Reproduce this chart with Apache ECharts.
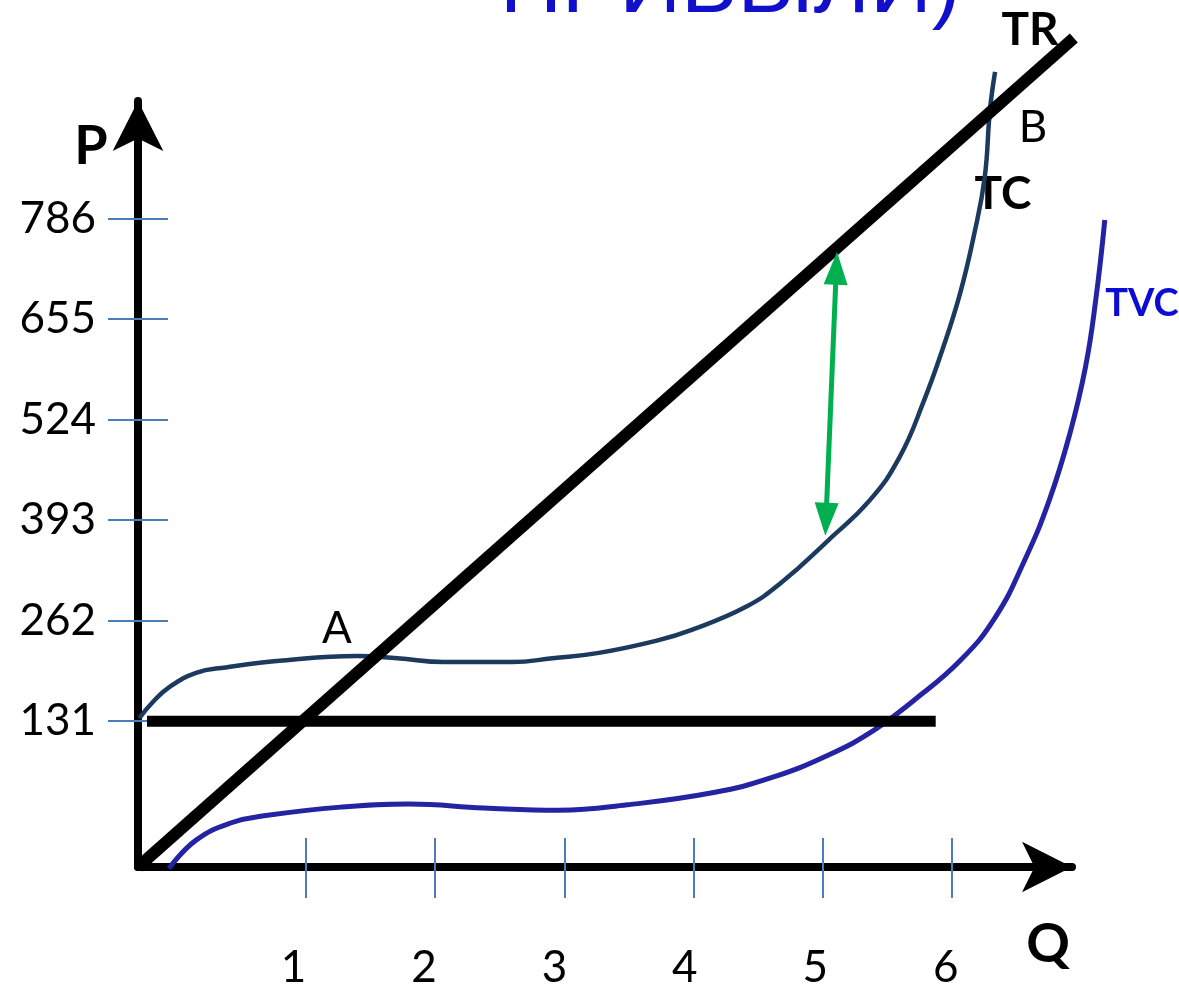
<!DOCTYPE html>
<html>
<head>
<meta charset="utf-8">
<script src="https://cdn.jsdelivr.net/npm/echarts@6/dist/echarts.min.js"></script>
<style>
  html, body { margin: 0; padding: 0; background: #fff; }
  #main { width: 1179px; height: 990px; }
</style>
</head>
<body>
<div id="main"></div>
<script>
// tick labels
var qTicks = [1, 2, 3, 4, 5, 6];
var pTicks = [131, 262, 393, 524, 655, 786];

// TR - straight line from the origin corner
var trQ = [-0.30, 6.95];
var trP = [-59, 1021];

// fixed costs
var fcQ = [-0.23, 5.88];
var fcP = [131, 131];

// TC
var tcQ = [-0.29, -0.19, -0.06, 0.15, 0.38, 0.82, 1.40, 1.71, 2.07, 2.60, 2.91, 3.27, 3.72, 3.99, 4.41, 4.68, 5.05, 5.37, 5.60, 5.79, 5.93, 6.07, 6.18, 6.26, 6.30, 6.34];
var tcP = [135, 155, 175, 194, 201, 210, 216, 213, 208, 208, 213, 220, 236, 250, 280, 311, 367, 419, 475, 549, 614, 689, 767, 840, 927, 977];

// TVC
var tvcQ = [-0.06, 0.15, 0.43, 0.69, 1.27, 1.80, 2.38, 2.96, 3.49, 4.16, 4.60, 5.05, 5.40, 5.71, 6.07, 6.34, 6.57, 6.76, 6.92, 7.04, 7.12, 7.19];
var tvcP = [-61, -24, -1, 8, 19, 23, 18, 15, 22, 38, 57, 87, 119, 158, 210, 266, 341, 419, 506, 592, 680, 784];

// profit arrow (between TC and TR), bottom end then top end
var profitQ = [5.03, 5.11];
var profitP = [394, 721];

function pairs(xs, ys) {
  return xs.map(function (x, i) { return [x, ys[i]]; });
}

var chart = echarts.init(document.getElementById('main'), null, { renderer: 'canvas' });

var tickStyle = { color: '#4a7ebb', width: 2 };
var noLine = { show: true, onZero: false, lineStyle: { color: 'rgba(0,0,0,0)', width: 1 } };
var labelFont = 'Lato';
var qMin = -0.30, qMax = 6.93, qMaxData = 7.30;
var pMin = -59, pMax = 939;

var option = {
  animation: false,
  grid: [
    // grid 0: the curves (wider on the right so the curves past the arrow are kept)
    { left: 138, right: 60, top: 101, bottom: 123 },
    // grid 1: the drawn axes
    { left: 138, right: 107, top: 101, bottom: 123 },
    // grid 2: Q labels (the picture sets them a bit apart from the ticks)
    { left: 124, right: 112, top: 101, bottom: 123 }
  ],
  xAxis: [
    { gridIndex: 0, type: 'value', min: qMin, max: qMaxData, show: false },
    {
      gridIndex: 1, type: 'value', min: qMin, max: qMax, position: 'bottom',
      axisLine: { show: true, onZero: false, symbol: ['none', 'arrow'], symbolSize: [38, 50], lineStyle: { color: '#000', width: 8 } },
      axisTick: { show: true, inside: true, length: 29, customValues: qTicks, lineStyle: tickStyle },
      axisLabel: { show: false },
      splitLine: { show: false }
    },
    {
      gridIndex: 1, type: 'value', min: qMin, max: qMax, position: 'bottom',
      axisLine: noLine,
      axisTick: { show: true, inside: false, length: 31, customValues: qTicks, lineStyle: tickStyle },
      axisLabel: { show: false },
      splitLine: { show: false }
    },
    {
      gridIndex: 2, type: 'value', min: qMin, max: qMax, position: 'bottom',
      axisLine: { show: false },
      axisTick: { show: false },
      axisLabel: { show: true, customValues: qTicks, margin: 80, fontSize: 44, color: '#000', fontFamily: labelFont },
      splitLine: { show: false }
    }
  ],
  yAxis: [
    { gridIndex: 0, type: 'value', min: pMin, max: pMax, show: false },
    {
      gridIndex: 1, type: 'value', min: pMin, max: pMax, position: 'left',
      axisLine: { show: true, onZero: false, symbol: ['none', 'arrow'], symbolSize: [38, 50], lineStyle: { color: '#000', width: 8 } },
      axisTick: { show: true, inside: true, length: 30, customValues: pTicks, lineStyle: tickStyle },
      axisLabel: { show: false },
      splitLine: { show: false }
    },
    {
      gridIndex: 1, type: 'value', min: pMin, max: pMax, position: 'left',
      axisLine: noLine,
      axisTick: { show: true, inside: false, length: 30, customValues: pTicks, lineStyle: tickStyle },
      axisLabel: { show: true, customValues: pTicks, margin: 42, fontSize: 44, color: '#000', fontFamily: labelFont },
      splitLine: { show: false }
    },
    { gridIndex: 2, type: 'value', min: pMin, max: pMax, show: false }
  ],
  series: [
    {
      name: 'TVC', type: 'line', xAxisIndex: 0, yAxisIndex: 0, data: pairs(tvcQ, tvcP), smooth: 0.45, showSymbol: false, clip: false,
      lineStyle: { color: '#2424a3', width: 5 }, z: 3
    },
    {
      name: 'TC', type: 'line', xAxisIndex: 0, yAxisIndex: 0, data: pairs(tcQ, tcP), smooth: 0.45, showSymbol: false, clip: false,
      lineStyle: { color: '#1b3a5e', width: 4.5 }, z: 3
    },
    {
      name: 'FC', type: 'line', xAxisIndex: 0, yAxisIndex: 0, data: pairs(fcQ, fcP), showSymbol: false, clip: false,
      lineStyle: { color: '#000', width: 11, cap: 'butt' }, z: 4
    },
    {
      name: 'TR', type: 'line', xAxisIndex: 0, yAxisIndex: 0, data: pairs(trQ, trP), showSymbol: false, clip: false,
      lineStyle: { color: '#000', width: 12, cap: 'butt' }, z: 4
    },
    {
      name: 'profit', type: 'line', xAxisIndex: 0, yAxisIndex: 0, clip: false, z: 5,
      data: [
        { value: [profitQ[0], profitP[0]], symbolRotate: 177.6 },
        { value: [profitQ[1], profitP[1]], symbolRotate: -2.4 }
      ],
      symbol: 'triangle', symbolSize: [24, 33], showSymbol: true,
      itemStyle: { color: '#00b050' },
      lineStyle: { color: '#00b050', width: 5 }
    }
  ],
  graphic: [
    { type: 'text', x: 500, y: -12, style: { text: 'ПРИБЫЛИ)', fontFamily: 'Liberation Sans', fontSize: 86, fill: '#1010cc', align: 'left', verticalAlign: 'middle' } },
    { type: 'text', x: 91, y: 147, style: { text: 'P', fontFamily: labelFont, fontWeight: 'bold', fontSize: 54, fill: '#000', align: 'center', verticalAlign: 'middle' } },
    { type: 'text', x: 1048, y: 945, style: { text: 'Q', fontFamily: labelFont, fontWeight: 'bold', fontSize: 54, fill: '#000', align: 'center', verticalAlign: 'middle' } },
    { type: 'text', x: 1030, y: 30, style: { text: 'TR', fontFamily: labelFont, fontWeight: 'bold', fontSize: 46, fill: '#000', align: 'center', verticalAlign: 'middle' } },
    { type: 'text', x: 1033, y: 128, style: { text: 'B', fontFamily: labelFont, fontSize: 44, fill: '#000', align: 'center', verticalAlign: 'middle' } },
    { type: 'text', x: 1003, y: 194, style: { text: 'TC', fontFamily: labelFont, fontWeight: 'bold', fontSize: 46, fill: '#000', align: 'center', verticalAlign: 'middle' } },
    { type: 'text', x: 1142, y: 304, style: { text: 'TVC', fontFamily: labelFont, fontWeight: 'bold', fontSize: 38, fill: '#0c0cd4', align: 'center', verticalAlign: 'middle' } },
    { type: 'text', x: 337, y: 629, style: { text: 'A', fontFamily: labelFont, fontSize: 44, fill: '#000', align: 'center', verticalAlign: 'middle' } }
  ]
};

chart.setOption(option);
</script>
</body>
</html>
